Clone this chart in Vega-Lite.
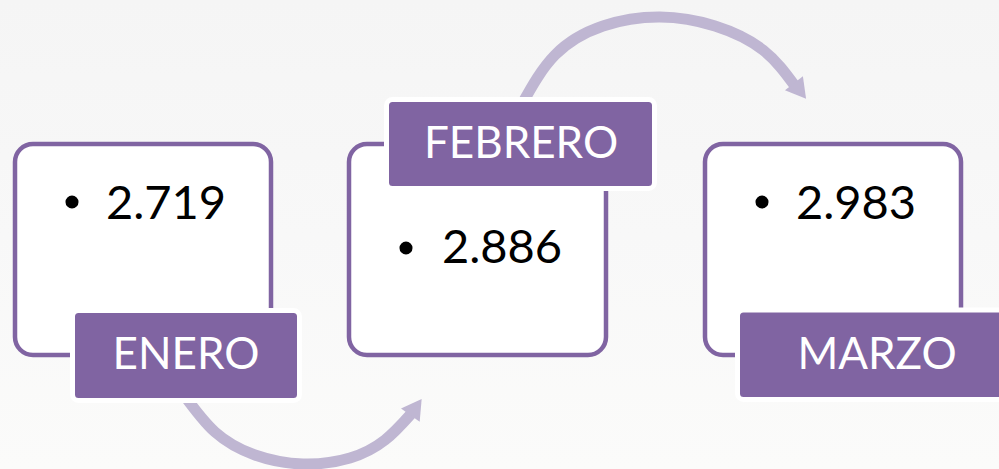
{
  "$schema": "https://vega.github.io/schema/vega-lite/v6.json",
  "width": 999,
  "height": 469,
  "autosize": {"type": "none"},
  "padding": 0,
  "background": "#f7f7f7",
  "config": {"view": {"stroke": null}},
  "datasets": {
    "bg": [{"x": 0, "x2": 999, "y": 0, "y2": 469}],
    "arcs": [
      {"arc": "a1", "o": 1, "x": 184, "y": 395},
      {"arc": "a1", "o": 2, "x": 215, "y": 432},
      {"arc": "a1", "o": 3, "x": 255, "y": 455},
      {"arc": "a1", "o": 4, "x": 303, "y": 464},
      {"arc": "a1", "o": 5, "x": 350, "y": 458},
      {"arc": "a1", "o": 6, "x": 385, "y": 440},
      {"arc": "a1", "o": 7, "x": 411, "y": 414},
      {"arc": "a2", "o": 1, "x": 522, "y": 104},
      {"arc": "a2", "o": 2, "x": 555, "y": 55},
      {"arc": "a2", "o": 3, "x": 603, "y": 26},
      {"arc": "a2", "o": 4, "x": 660, "y": 17},
      {"arc": "a2", "o": 5, "x": 715, "y": 26},
      {"arc": "a2", "o": 6, "x": 763, "y": 50},
      {"arc": "a2", "o": 7, "x": 795, "y": 86}
    ],
    "heads": [
      {"arc": "a1", "x": 416, "y": 407},
      {"arc": "a2", "x": 800, "y": 91}
    ],
    "boxes": [
      {"mes": "ENERO", "x": 15, "x2": 271, "y": 144, "y2": 355},
      {"mes": "FEBRERO", "x": 349, "x2": 606, "y": 144, "y2": 355},
      {"mes": "MARZO", "x": 705, "x2": 961, "y": 144, "y2": 355}
    ],
    "labels": [
      {"mes": "ENERO", "x": 72.5, "x2": 299.5, "y": 310.5, "y2": 400.5, "tx": 186, "ty": 369},
      {"mes": "FEBRERO", "x": 386.5, "x2": 654.5, "y": 99.5, "y2": 188.5, "tx": 521, "ty": 158},
      {"mes": "MARZO", "x": 737.5, "x2": 1030, "y": 310, "y2": 399.5, "tx": 877, "ty": 369}
    ],
    "values": [
      {"mes": "ENERO", "valor": "2.719", "bx": 72, "by": 202, "tx": 106, "ty": 219},
      {"mes": "FEBRERO", "valor": "2.886", "bx": 406, "by": 248, "tx": 442, "ty": 263},
      {"mes": "MARZO", "valor": "2.983", "bx": 762, "by": 202, "tx": 796, "ty": 219}
    ]
  },
  "layer": [
    {
      "data": {"name": "bg"},
      "mark": {
        "type": "rect",
        "color": {
          "gradient": "linear",
          "x1": 0, "y1": 0, "x2": 0, "y2": 1,
          "stops": [
            {"offset": 0, "color": "#f5f5f5"},
            {"offset": 0.5, "color": "#f8f8f8"},
            {"offset": 1, "color": "#fbfbfa"}
          ]
        }
      },
      "encoding": {
        "x": {"field": "x", "type": "quantitative", "scale": {"domain": [0, 999], "nice": false, "zero": false}, "axis": null},
        "x2": {"field": "x2"},
        "y": {"field": "y", "type": "quantitative", "scale": {"domain": [0, 469], "reverse": true, "nice": false, "zero": false}, "axis": null},
        "y2": {"field": "y2"}
      }
    },
    {
      "data": {"name": "arcs"},
      "mark": {"type": "line", "interpolate": "natural", "stroke": "#bfb6d2", "strokeWidth": 11, "strokeCap": "butt"},
      "encoding": {
        "x": {"field": "x", "type": "quantitative", "axis": null},
        "y": {"field": "y", "type": "quantitative", "axis": null},
        "detail": {"field": "arc"},
        "order": {"field": "o", "type": "quantitative"}
      }
    },
    {
      "data": {"name": "heads"},
      "transform": [{"filter": "datum.arc === 'a1'"}],
      "mark": {"type": "point", "shape": "triangle-up", "filled": true, "color": "#bfb6d2", "opacity": 1, "size": 520, "angle": 35},
      "encoding": {
        "x": {"field": "x", "type": "quantitative", "axis": null},
        "y": {"field": "y", "type": "quantitative", "axis": null}
      }
    },
    {
      "data": {"name": "heads"},
      "transform": [{"filter": "datum.arc === 'a2'"}],
      "mark": {"type": "point", "shape": "triangle-up", "filled": true, "color": "#bfb6d2", "opacity": 1, "size": 520, "angle": 142},
      "encoding": {
        "x": {"field": "x", "type": "quantitative", "axis": null},
        "y": {"field": "y", "type": "quantitative", "axis": null}
      }
    },
    {
      "data": {"name": "boxes"},
      "mark": {"type": "rect", "fill": "#ffffff", "stroke": "#8064a2", "strokeWidth": 4.5, "cornerRadius": 18},
      "encoding": {
        "x": {"field": "x", "type": "quantitative", "axis": null},
        "x2": {"field": "x2"},
        "y": {"field": "y", "type": "quantitative", "axis": null},
        "y2": {"field": "y2"}
      }
    },
    {
      "data": {"name": "labels"},
      "mark": {"type": "rect", "fill": "#8064a2", "stroke": "#ffffff", "strokeWidth": 5, "cornerRadius": 6, "clip": true},
      "encoding": {
        "x": {"field": "x", "type": "quantitative", "axis": null},
        "x2": {"field": "x2"},
        "y": {"field": "y", "type": "quantitative", "axis": null},
        "y2": {"field": "y2"}
      }
    },
    {
      "data": {"name": "labels"},
      "mark": {"type": "text", "font": "Lato", "fontSize": 44, "color": "#ffffff", "align": "center", "baseline": "alphabetic"},
      "encoding": {
        "x": {"field": "tx", "type": "quantitative", "axis": null},
        "y": {"field": "ty", "type": "quantitative", "axis": null},
        "text": {"field": "mes"}
      }
    },
    {
      "data": {"name": "values"},
      "mark": {"type": "point", "shape": "circle", "filled": true, "color": "#000000", "opacity": 1, "size": 170},
      "encoding": {
        "x": {"field": "bx", "type": "quantitative", "axis": null},
        "y": {"field": "by", "type": "quantitative", "axis": null}
      }
    },
    {
      "data": {"name": "values"},
      "mark": {"type": "text", "font": "Lato", "fontSize": 47, "color": "#000000", "align": "left", "baseline": "alphabetic"},
      "encoding": {
        "x": {"field": "tx", "type": "quantitative", "axis": null},
        "y": {"field": "ty", "type": "quantitative", "axis": null},
        "text": {"field": "valor"}
      }
    }
  ]
}
